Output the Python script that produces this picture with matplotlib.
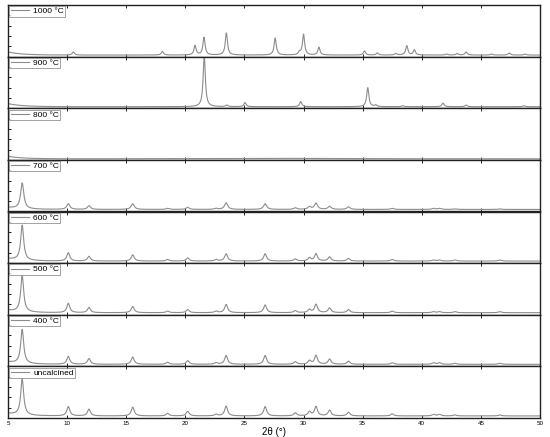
import numpy as np
import matplotlib
matplotlib.use("Agg")
import matplotlib.pyplot as plt

plt.rcParams['font.family'] = ['Liberation Sans', 'DejaVu Sans']

labels = ["1000 °C", "900 °C", "800 °C", "700 °C", "600 °C", "500 °C", "400 °C", "uncalcined"]

# layered-phase peak positions (2θ) shared by uncalcined..700 °C
ldh_pos = [6.2, 10.1, 11.85, 15.55, 18.5, 20.2, 22.6, 23.45, 26.75, 29.3, 30.5, 31.05, 32.2, 33.8, 37.5, 41.0, 41.5, 42.8, 46.6]
h_uncal = [0.70, 0.18, 0.13, 0.17, 0.05, 0.09, 0.03, 0.19, 0.18, 0.06, 0.08, 0.18, 0.11, 0.07, 0.04, 0.03, 0.03, 0.02, 0.02]
h_400   = [0.66, 0.15, 0.11, 0.14, 0.04, 0.07, 0.03, 0.17, 0.17, 0.05, 0.07, 0.17, 0.10, 0.06, 0.03, 0.03, 0.03, 0.02, 0.02]
h_500   = [0.70, 0.18, 0.10, 0.12, 0.03, 0.06, 0.03, 0.16, 0.15, 0.04, 0.06, 0.16, 0.09, 0.06, 0.03, 0.02, 0.02, 0.02, 0.02]
h_600   = [0.68, 0.16, 0.09, 0.12, 0.03, 0.06, 0.03, 0.14, 0.14, 0.04, 0.06, 0.14, 0.08, 0.05, 0.03, 0.02, 0.02, 0.02, 0.02]
h_700   = [0.50, 0.11, 0.07, 0.11, 0.02, 0.04, 0.02, 0.13, 0.11, 0.03, 0.05, 0.12, 0.06, 0.05, 0.02, 0.02, 0.02, 0.01, 0.01]

# 900 °C phase
pos_900 = [21.6, 23.5, 25.05, 29.76, 35.43, 36.1, 38.4, 41.8, 43.75, 48.65]
h_900   = [1.00, 0.03, 0.08, 0.10, 0.37, 0.03, 0.02, 0.07, 0.03, 0.02]

# 1000 °C phase
pos_1000 = [10.53, 18.06, 20.82, 21.58, 23.47, 27.6, 29.65, 30.0, 31.3, 35.15, 36.25, 37.8, 38.73, 39.37, 42.1, 43.0, 43.75, 45.9, 47.4, 48.75]
h_1000   = [0.06, 0.07, 0.18, 0.34, 0.43, 0.33, 0.05, 0.40, 0.15, 0.08, 0.04, 0.03, 0.18, 0.10, 0.02, 0.03, 0.06, 0.02, 0.04, 0.02]

# 800 °C: no crystalline peaks, broad hump only
pos_800 = [27.0]
h_800 = [0.01]

baselines = [0.03, 0.03, 0.02, 0.04, 0.04, 0.04, 0.04, 0.04]
lowangle = [0.06, 0.06, 0.05, 0.04, 0.05, 0.05, 0.05, 0.05]

series = [(pos_1000, h_1000, 0.22), (pos_900, h_900, 0.22), (pos_800, h_800, 12.0),
          (ldh_pos, h_700, 0.32), (ldh_pos, h_600, 0.3), (ldh_pos, h_500, 0.3),
          (ldh_pos, h_400, 0.3), (ldh_pos, h_uncal, 0.3)]

x = np.arange(5, 50.001, 0.02)

def profile(pos, hts, w, base, low):
    y = np.full_like(x, base) + low * np.exp(-(x - 5) / 1.2)
    for p, h in zip(pos, hts):
        y += h / (1 + ((x - p) / (w / 2)) ** 2)
    return y

fig = plt.figure(figsize=(5.5, 4.37), dpi=100)
left, right, bottom, top = 8 / 550, 540 / 550, 1 - 418 / 437, 1 - 5 / 437
n = len(labels)
hgt = (top - bottom) / n
col = '#8c8c8c'
for i, (lab, (pos, hts, w)) in enumerate(zip(labels, series)):
    ax = fig.add_axes([left, top - (i + 1) * hgt, right - left, hgt])
    y = profile(pos, hts, w, baselines[i], lowangle[i])
    ax.plot(x, y, color=col, lw=0.8, label=lab)
    ax.set_xlim(5, 50)
    ax.set_ylim(0, 1.0)
    ax.set_yticks(np.arange(0, 1.0, 0.2))
    ax.set_yticklabels([])
    ax.set_xticks(np.arange(5, 51, 5))
    ax.tick_params(axis='both', direction='in', length=2, width=0.6, top=True, labelsize=4.5, pad=2)
    for s in ax.spines.values():
        s.set_linewidth(1.0)
        s.set_color('#222222')
    if i < n - 1:
        ax.set_xticklabels([])
    else:
        ax.set_xlabel("2θ (°)", fontsize=7, labelpad=1)
    leg = ax.legend(loc='upper left', fontsize=6, frameon=True, fancybox=False,
                    handlelength=2.2, handletextpad=0.5, borderpad=0.15,
                    borderaxespad=0.15, edgecolor='#777777')
    leg.get_frame().set_linewidth(0.6)

fig.savefig("out.png", dpi=100)
